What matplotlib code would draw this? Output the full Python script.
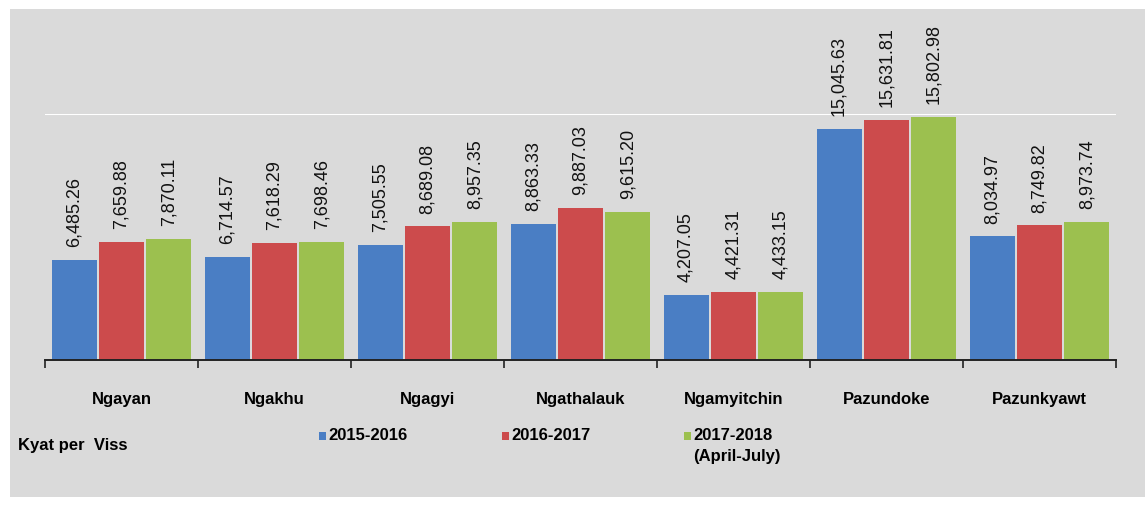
import numpy as np
import matplotlib.pyplot as plt
from matplotlib.patches import Rectangle

plt.rcParams['font.family'] = ['Liberation Sans', 'DejaVu Sans']

# fish species and average price (Kyat per Viss) by season
species = ['Ngayan', 'Ngakhu', 'Ngagyi', 'Ngathalauk', 'Ngamyitchin', 'Pazundoke', 'Pazunkyawt']
price_2015 = [6485.26, 6714.57, 7505.55, 8863.33, 4207.05, 15045.63, 8034.97]
price_2016 = [7659.88, 7618.29, 8689.08, 9887.03, 4421.31, 15631.81, 8749.82]
price_2017 = [7870.11, 7698.46, 8957.35, 9615.20, 4433.15, 15802.98, 8973.74]
seasons = ['2015-2016', '2016-2017', '2017-2018\n(April-July)']
colors = ['#4a7ec4', '#cc4b4c', '#9cc04f']

bg = '#dadada'
W, H = 1145, 506
fig = plt.figure(figsize=(W / 100, H / 100), dpi=100, facecolor='white')
fig.patches.append(Rectangle((10 / W, 8 / H), 1135 / W, 488 / H,
                             transform=fig.transFigure, facecolor=bg,
                             edgecolor='none', zorder=-10))

ax = fig.add_axes([45 / W, 1 - 361 / H, 1071 / W, 246 / H])
ax.set_facecolor(bg)
ax.axhline(16000, color='white', lw=1.5, zorder=0)

x = np.arange(len(species))
w = 0.295
step = 0.31
for k, vals in enumerate([price_2015, price_2016, price_2017]):
    bars = ax.bar(x + (k - 1) * step, vals, width=w, color=colors[k],
                  edgecolor='none', zorder=2)
    for b, v in zip(bars, vals):
        ax.annotate(f'{v:,.2f}', (b.get_x() + b.get_width() / 2, v),
                    xytext=(0, 10), textcoords='offset points',
                    rotation=90, ha='center', va='bottom', fontsize=13,
                    color='#111111', annotation_clip=False)

ax.set_xlim(-0.5, len(species) - 0.5)
ax.set_ylim(0, 16000)
for s in ['left', 'right', 'top']:
    ax.spines[s].set_visible(False)
ax.spines['bottom'].set_linewidth(1.4)
ax.spines['bottom'].set_color('#222222')
ax.set_yticks([])
ax.set_xticks(x)
ax.set_xticklabels(species, fontsize=12, fontweight='bold')
ax.tick_params(axis='x', which='major', length=0, pad=22)
ax.set_xticks(np.arange(len(species) + 1) - 0.5, minor=True)
ax.tick_params(axis='x', which='minor', length=6, width=1.2, color='#222222')

# legend row under the axis, entries top-aligned
leg_x = [319, 502, 684]
for lx, c, lab in zip(leg_x, colors, seasons):
    fig.patches.append(Rectangle((lx / W, 1 - 441 / H), 7 / W, 8 / H,
                                 transform=fig.transFigure, facecolor=c,
                                 edgecolor='none'))
    fig.text((lx + 9) / W, 1 - 428 / H, lab, fontsize=12, fontweight='bold',
             va='top', ha='left', linespacing=1.5)
fig.text(18 / W, 1 - 446 / H, 'Kyat per  Viss', fontsize=12,
         fontweight='bold', va='center', ha='left')

fig.savefig('out.png', dpi=100, facecolor=fig.get_facecolor())
